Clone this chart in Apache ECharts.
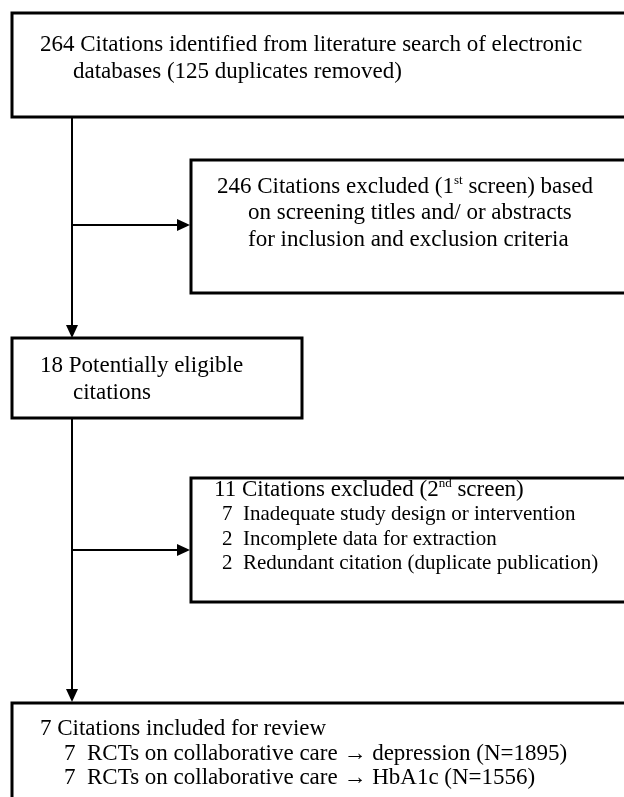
<!DOCTYPE html>
<html><head><meta charset="utf-8">
<script src="https://cdn.jsdelivr.net/npm/echarts@6/dist/echarts.min.js"></script>
<style>html,body{margin:0;padding:0;background:#fff}#c{width:624px;height:797px}</style>
</head><body><div id="c"></div>
<script>
// Flow chart content
const box1Lines = ["264 Citations identified from literature search of electronic", "databases (125 duplicates removed)"];
const box2Lines = ["246 Citations excluded (1{sup|st} screen) based", "on screening titles and/ or abstracts", "for inclusion and exclusion criteria"];
const box3Lines = ["18 Potentially eligible", "citations"];
const box4Lines = ["11 Citations excluded (2{sup|nd} screen)", "7  Inadequate study design or intervention", "2  Incomplete data for extraction", "2  Redundant citation (duplicate publication)"];
const box5Lines = ["7 Citations included for review", "7  RCTs on collaborative care \u2192 depression (N=1895)", "7  RCTs on collaborative care \u2192 HbA1c (N=1556)"];

const chart = echarts.init(document.getElementById('c'), null, {renderer: 'canvas'});
const FONT = '"Liberation Serif", "Times New Roman", serif';
const els = [];
function rect(x, y, w, h) {
  els.push({type: 'rect', shape: {x: x, y: y, width: w, height: h}, style: {fill: '#fff', stroke: '#000', lineWidth: 3}});
}
function line(x1, y1, x2, y2) {
  els.push({type: 'line', shape: {x1: x1, y1: y1, x2: x2, y2: y2}, style: {stroke: '#000', lineWidth: 2}});
}
function arrowDown(x, y) {
  els.push({type: 'polygon', shape: {points: [[x - 6, y - 13], [x + 6, y - 13], [x, y]]}, style: {fill: '#000'}});
}
function arrowRight(x, y) {
  els.push({type: 'polygon', shape: {points: [[x - 13, y - 6], [x - 13, y + 6], [x, y]]}, style: {fill: '#000'}});
}
function text(str, x, y, fs) {
  els.push({type: 'text', x: x, y: y, style: {
    text: str, fill: '#000', font: fs + 'px ' + FONT, textVerticalAlign: 'middle',
    rich: {sup: {fontSize: Math.round(fs * 0.55), fontFamily: FONT, verticalAlign: 'top', padding: [0, 0, Math.round(fs * 0.5), 0], fill: '#000'}}
  }});
}

// connectors
line(72, 117, 72, 336); arrowDown(72, 338);
line(72, 225, 188, 225); arrowRight(190, 225);
line(72, 418, 72, 700); arrowDown(72, 702);
line(72, 550, 188, 550); arrowRight(190, 550);

// boxes
rect(12, 13, 720, 104);
rect(191, 160, 540, 133);
rect(12, 338, 290, 80);
rect(191, 478, 540, 124);
rect(12, 703, 720, 200);

// texts
const F1 = 23, F2 = 21;
text(box1Lines[0], 40, 45, F1); text(box1Lines[1], 73, 72, F1);
text(box2Lines[0], 217, 187, F1); text(box2Lines[1], 248, 213, F1); text(box2Lines[2], 248, 240, F1);
text(box3Lines[0], 40, 366, F1); text(box3Lines[1], 73, 393, F1);
text(box4Lines[0], 214, 490, F1); text(box4Lines[1], 222, 514, F2); text(box4Lines[2], 222, 539, F2); text(box4Lines[3], 222, 563, F2);
text(box5Lines[0], 40, 729, F1); text(box5Lines[1], 64, 754, F1); text(box5Lines[2], 64, 778, F1);

chart.setOption({animation: false, backgroundColor: '#fff', graphic: {elements: els}});
</script></body></html>
